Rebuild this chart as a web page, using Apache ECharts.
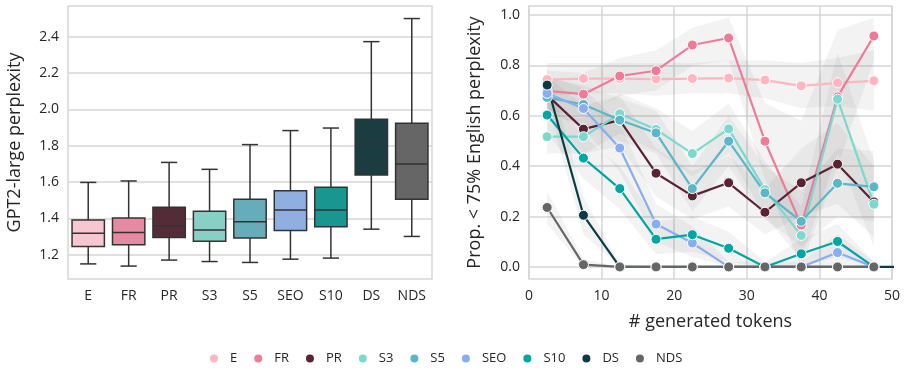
<!DOCTYPE html>
<html>
<head>
<meta charset="utf-8">
<script src="https://cdn.jsdelivr.net/npm/echarts@6/dist/echarts.min.js"></script>
<style>
  html, body { margin: 0; padding: 0; background: #fff; }
  #chart { width: 908px; height: 372px; }
</style>
</head>
<body>
<div id="chart"></div>
<script>
// categories (same order in both panels)
const names = ['E', 'FR', 'PR', 'S3', 'S5', 'SEO', 'S10', 'DS', 'NDS'];
const lineColors = ['#ffb6c1', '#ef7a99', '#5a2334', '#7bdacd', '#5bb7c8', '#87aef0', '#00a6a2', '#0b3c44', '#666666'];
const boxColors = ['#f8c6d0', '#e68aa3', '#542c38', '#87d0c5', '#66adb9', '#8fafe0', '#1a9690', '#1b3d42', '#666666'];

// box plot: [whisker low, q1, median, q3, whisker high]
const boxStats = [
    [1.150, 1.246, 1.319, 1.391, 1.598],
    [1.138, 1.255, 1.323, 1.402, 1.606],
    [1.171, 1.295, 1.360, 1.462, 1.708],
    [1.163, 1.275, 1.336, 1.439, 1.670],
    [1.158, 1.292, 1.382, 1.505, 1.806],
    [1.176, 1.334, 1.446, 1.552, 1.883],
    [1.182, 1.354, 1.446, 1.572, 1.897],
    [1.341, 1.639, 1.811, 1.945, 2.372],
    [1.301, 1.505, 1.699, 1.923, 2.499]
];
const boxTicks = [1.2, 1.4, 1.6, 1.8, 2.0, 2.2, 2.4];

// line plot
const tokens = [2.5, 7.5, 12.5, 17.5, 22.5, 27.5, 32.5, 37.5, 42.5, 47.5];
const propE   = [0.744, 0.748, 0.748, 0.746, 0.748, 0.750, 0.742, 0.719, 0.731, 0.739];
const propFR  = [0.699, 0.686, 0.758, 0.779, 0.881, 0.909, 0.499, 0.166, 0.675, 0.917];
const propPR  = [0.682, 0.547, 0.583, 0.372, 0.282, 0.334, 0.217, 0.334, 0.408, 0.258];
const propS3  = [0.517, 0.517, 0.608, 0.546, 0.450, 0.548, 0.307, 0.125, 0.666, 0.249];
const propS5  = [0.673, 0.645, 0.583, 0.532, 0.311, 0.499, 0.294, 0.181, 0.332, 0.318];
const propSEO = [0.689, 0.629, 0.472, 0.170, 0.095, 0.000, 0.000, 0.000, 0.057, 0.000];
const propS10 = [0.603, 0.432, 0.311, 0.110, 0.128, 0.074, 0.000, 0.052, 0.101, 0.000];
const propDS  = [0.722, 0.205, 0.000, 0.000, 0.000, 0.000, 0.000, 0.000, 0.000, 0.000, 0.000];
const propNDS = [0.236, 0.009, 0.000, 0.000, 0.000, 0.000, 0.000, 0.000, 0.000, 0.000];
const dsTokens = tokens.concat([52.5]);

// confidence bands (low / high)
const loE   = [0.68, 0.69, 0.69, 0.68, 0.69, 0.69, 0.67, 0.63, 0.64, 0.62];
const hiE   = [0.81, 0.81, 0.81, 0.81, 0.81, 0.82, 0.82, 0.81, 0.83, 0.86];
const loFR  = [0.62, 0.60, 0.68, 0.70, 0.80, 0.82, 0.35, 0.00, 0.40, 0.82];
const hiFR  = [0.78, 0.77, 0.83, 0.86, 0.95, 0.99, 0.65, 0.58, 0.94, 0.99];
const loPR  = [0.60, 0.45, 0.48, 0.28, 0.19, 0.24, 0.13, 0.20, 0.25, 0.12];
const hiPR  = [0.76, 0.64, 0.68, 0.47, 0.38, 0.44, 0.31, 0.47, 0.57, 0.40];
const loS3  = [0.45, 0.45, 0.53, 0.46, 0.36, 0.45, 0.20, 0.03, 0.45, 0.08];
const hiS3  = [0.59, 0.59, 0.69, 0.63, 0.54, 0.65, 0.42, 0.24, 0.85, 0.42];
const loS5  = [0.60, 0.57, 0.50, 0.45, 0.22, 0.40, 0.19, 0.08, 0.20, 0.18];
const hiS5  = [0.75, 0.72, 0.67, 0.62, 0.40, 0.60, 0.40, 0.30, 0.47, 0.46];
const loSEO = [0.62, 0.55, 0.38, 0.10, 0.04, 0.00, 0.00, 0.00, 0.00, 0.00];
const hiSEO = [0.76, 0.71, 0.57, 0.25, 0.16, 0.02, 0.02, 0.02, 0.13, 0.02];
const loS10 = [0.53, 0.35, 0.23, 0.05, 0.06, 0.02, 0.00, 0.00, 0.04, 0.00];
const hiS10 = [0.68, 0.52, 0.40, 0.18, 0.20, 0.14, 0.02, 0.11, 0.17, 0.02];
const loDS  = [0.65, 0.13, 0.00, 0.00, 0.00, 0.00, 0.00, 0.00, 0.00, 0.00];
const hiDS  = [0.79, 0.28, 0.01, 0.00, 0.00, 0.00, 0.00, 0.00, 0.00, 0.00];
const loNDS = [0.17, 0.00, 0.00, 0.00, 0.00, 0.00, 0.00, 0.00, 0.00, 0.00];
const hiNDS = [0.30, 0.03, 0.00, 0.00, 0.00, 0.00, 0.00, 0.00, 0.00, 0.00];
const propTicks = [0, 0.2, 0.4, 0.6, 0.8, 1.0];

const FONT = 'Open Sans';
const TEXT = '#262626';
const GRIDC = '#d6d6d6';

const lines = [propE, propFR, propPR, propS3, propS5, propSEO, propS10, propDS, propNDS];
const los = [loE, loFR, loPR, loS3, loS5, loSEO, loS10, loDS, loNDS];
const his = [hiE, hiFR, hiPR, hiS3, hiS5, hiSEO, hiS10, hiDS, hiNDS];

let chart = echarts.init(document.getElementById('chart'), null, {renderer: 'canvas'});

let series = [];

// boxes drawn with a custom series so the caps are half the box width
series.push({
    type: 'custom',
    xAxisIndex: 0,
    yAxisIndex: 0,
    data: boxStats.map((s, i) => [i].concat(s)),
    encode: {x: 0, y: [1, 2, 3, 4, 5]},
    renderItem: function (params, api) {
        let i = api.value(0);
        let band = api.size([1, 0])[0];
        let bw = band * 0.8;
        let cw = band * 0.4;
        let p = [1, 2, 3, 4, 5].map((d) => api.coord([i, api.value(d)]));
        let cx = p[0][0];
        let st = {stroke: '#333333', lineWidth: 1.5, fill: null};
        return {
            type: 'group',
            children: [
                {type: 'line', shape: {x1: cx, y1: p[0][1], x2: cx, y2: p[1][1]}, style: st},
                {type: 'line', shape: {x1: cx, y1: p[3][1], x2: cx, y2: p[4][1]}, style: st},
                {type: 'line', shape: {x1: cx - cw / 2, y1: p[0][1], x2: cx + cw / 2, y2: p[0][1]}, style: st},
                {type: 'line', shape: {x1: cx - cw / 2, y1: p[4][1], x2: cx + cw / 2, y2: p[4][1]}, style: st},
                {type: 'rect', shape: {x: cx - bw / 2, y: p[3][1], width: bw, height: p[1][1] - p[3][1]},
                    style: {fill: boxColors[i], stroke: '#333333', lineWidth: 1.5}},
                {type: 'line', shape: {x1: cx - bw / 2, y1: p[2][1], x2: cx + bw / 2, y2: p[2][1]}, style: st}
            ]
        };
    }
});

// confidence bands: one polygon per series, points mapped through the axes
names.forEach(function (n, k) {
    let row = [];
    tokens.forEach((x, j) => row.push(x, los[k][j], his[k][j]));
    let nPts = tokens.length;
    series.push({
        type: 'custom', xAxisIndex: 1, yAxisIndex: 1, silent: true, z: 1,
        data: [row],
        encode: {x: [0], y: [1, 2]},
        renderItem: function (params, api) {
            let upper = [], lower = [];
            for (let j = 0; j < nPts; j++) {
                let x = api.value(j * 3);
                lower.push(api.coord([x, api.value(j * 3 + 1)]));
                upper.push(api.coord([x, api.value(j * 3 + 2)]));
            }
            return {
                type: 'polygon',
                shape: {points: upper.concat(lower.reverse())},
                style: {fill: 'rgba(120,120,120,0.085)', stroke: null}
            };
        }
    });
});

// lines
names.forEach(function (n, k) {
    let xs = (n === 'DS') ? dsTokens : tokens;
    series.push({
        name: n,
        type: 'line', xAxisIndex: 1, yAxisIndex: 1,
        z: 3,
        symbol: 'circle', symbolSize: 10,
        clip: true,
        color: lineColors[k],
        lineStyle: {width: 2.2, color: lineColors[k]},
        itemStyle: {color: lineColors[k], borderColor: '#ffffff', borderWidth: 1},
        emphasis: {disabled: true},
        data: xs.map((x, j) => [x, lines[k][j]])
    });
});

let option = {
    animation: false,
    textStyle: {fontFamily: FONT, color: TEXT},
    legend: {
        data: names,
        bottom: 2,
        left: 203,
        icon: 'circle',
        itemWidth: 10,
        itemHeight: 10,
        itemGap: 15,
        textStyle: {fontFamily: FONT, fontSize: 13, color: TEXT, padding: [0, 0, 0, 6]}
    },
    grid: [
        {left: 68, right: 476, top: 6, bottom: 93, show: true, borderColor: GRIDC, borderWidth: 1.5, backgroundColor: '#fff'},
        {left: 529, right: 16, top: 6, bottom: 93, show: true, borderColor: GRIDC, borderWidth: 1.5, backgroundColor: '#fff'}
    ],
    xAxis: [
        {
            type: 'category', gridIndex: 0, data: names, boundaryGap: true,
            axisLine: {show: false}, axisTick: {show: false},
            axisLabel: {fontSize: 14, color: TEXT, margin: 10, fontFamily: FONT},
            splitLine: {show: false}
        },
        {
            type: 'value', gridIndex: 1, min: 0, max: 50, interval: 10,
            axisLine: {show: false}, axisTick: {show: false},
            axisLabel: {fontSize: 14, color: TEXT, margin: 10, fontFamily: FONT},
            splitLine: {show: true, lineStyle: {color: GRIDC, width: 1.5}},
            name: '# generated tokens', nameLocation: 'middle', nameGap: 34,
            nameTextStyle: {fontSize: 18, color: TEXT, fontFamily: FONT}
        }
    ],
    yAxis: [
        {
            type: 'value', gridIndex: 0, min: 1.067, max: 2.568,
            axisLine: {show: false},
            axisTick: {show: false, customValues: boxTicks},
            axisLabel: {fontSize: 14, color: TEXT, margin: 9, fontFamily: FONT, customValues: boxTicks,
                formatter: (v) => v.toFixed(1)},
            splitLine: {show: true, lineStyle: {color: GRIDC, width: 1.5}},
            name: 'GPT2-large perplexity', nameLocation: 'middle', nameGap: 44,
            nameTextStyle: {fontSize: 18, color: TEXT, fontFamily: FONT}
        },
        {
            type: 'value', gridIndex: 1, min: -0.048, max: 1.036,
            axisLine: {show: false},
            axisTick: {show: false, customValues: propTicks},
            axisLabel: {fontSize: 14, color: TEXT, margin: 9, fontFamily: FONT, customValues: propTicks,
                formatter: (v) => v.toFixed(1)},
            splitLine: {show: true, lineStyle: {color: GRIDC, width: 1.5}},
            name: 'Prop. < 75% English perplexity', nameLocation: 'middle', nameGap: 45,
            nameTextStyle: {fontSize: 18, color: TEXT, fontFamily: FONT}
        }
    ],
    series: series
};

chart.setOption(option);
</script>
</body>
</html>
